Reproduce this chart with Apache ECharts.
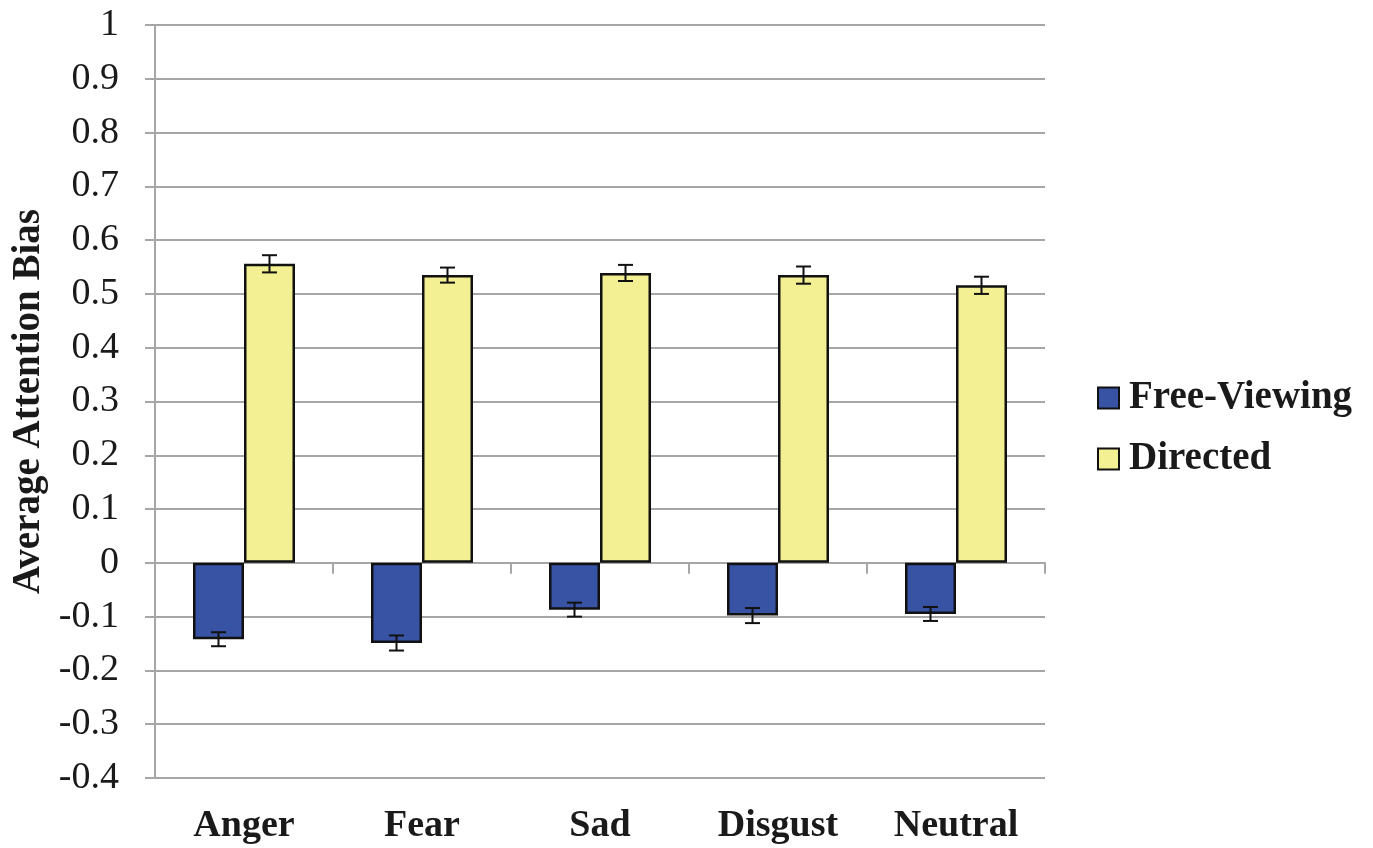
<!DOCTYPE html>
<html>
<head>
<meta charset="utf-8">
<script src="https://cdn.jsdelivr.net/npm/echarts@6/dist/echarts.min.js"></script>
<style>
  html, body { margin: 0; padding: 0; background: #fff; }
  #chart { width: 1373px; height: 848px; }
</style>
</head>
<body>
<div id="chart"></div>
<script>
// Emotion categories on the x axis
const categories = ['Anger', 'Fear', 'Sad', 'Disgust', 'Neutral'];

// Mean attention bias and standard error per condition
const freeViewing = [-0.142, -0.149, -0.087, -0.098, -0.095];
const freeViewingErr = [0.013, 0.014, 0.013, 0.014, 0.013];
const directed = [0.556, 0.535, 0.539, 0.535, 0.516];
const directedErr = [0.016, 0.014, 0.015, 0.016, 0.016];

const seriesNames = ['Free-Viewing', 'Directed'];
const yMin = -0.4, yMax = 1, yStep = 0.1;

const BAR_W = 51;
const FONT = '"Liberation Serif", "Times New Roman", serif';
const AXIS_GRAY = '#a6a6a6';
const TEXT = '#1a1a1a';

function errorBarSeries(means, errs, offset) {
  return {
    type: 'custom',
    xAxisIndex: 0,
    z: 5,
    silent: true,
    data: means.map((m, i) => [i, m - errs[i], m + errs[i]]),
    renderItem(params, api) {
      const i = api.value(0);
      const lo = api.coord([i, api.value(1)]);
      const hi = api.coord([i, api.value(2)]);
      const x = lo[0] + offset;
      const cap = 7.5;
      const style = { stroke: '#111', lineWidth: 2 };
      return {
        type: 'group',
        children: [
          { type: 'line', shape: { x1: x, y1: lo[1], x2: x, y2: hi[1] }, style },
          { type: 'line', shape: { x1: x - cap, y1: lo[1], x2: x + cap, y2: lo[1] }, style },
          { type: 'line', shape: { x1: x - cap, y1: hi[1], x2: x + cap, y2: hi[1] }, style }
        ]
      };
    }
  };
}

const chart = echarts.init(document.getElementById('chart'), null, { renderer: 'canvas' });

chart.setOption({
  animation: false,
  backgroundColor: '#fff',
  grid: { left: 155, right: 328, top: 25, bottom: 70, containLabel: false },
  legend: {
    orient: 'vertical',
    left: 1097,
    top: 378,
    padding: 0,
    icon: 'rect',
    itemWidth: 21,
    itemHeight: 21,
    itemGap: 21,
    data: seriesNames,
    textStyle: {
      fontFamily: FONT, fontWeight: 'bold', fontSize: 39, color: TEXT,
      lineHeight: 40, padding: [0, 0, 0, 5]
    }
  },
  xAxis: [
    {
      // category labels along the bottom of the plot
      type: 'category',
      data: categories,
      position: 'bottom',
      axisLine: { show: false, onZero: false },
      axisTick: { show: false },
      axisLabel: { fontFamily: FONT, fontWeight: 'bold', fontSize: 38, color: TEXT, margin: 29 },
      splitLine: { show: false }
    },
    {
      // baseline at zero with boundary ticks
      type: 'category',
      data: categories,
      position: 'bottom',
      axisLine: { show: true, onZero: true, lineStyle: { color: AXIS_GRAY, width: 2 } },
      axisTick: { show: true, length: 11, lineStyle: { color: AXIS_GRAY, width: 2 } },
      axisLabel: { show: false },
      splitLine: { show: false }
    }
  ],
  yAxis: {
    type: 'value',
    min: yMin,
    max: yMax,
    interval: yStep,
    name: 'Average Attention Bias',
    nameLocation: 'middle',
    nameGap: 106,
    nameTextStyle: { fontFamily: FONT, fontWeight: 'bold', fontSize: 39, color: TEXT },
    axisLine: { show: true, lineStyle: { color: AXIS_GRAY, width: 2 } },
    axisTick: { show: true, length: 10, lineStyle: { color: AXIS_GRAY, width: 2 } },
    axisLabel: {
      fontFamily: FONT, fontSize: 38, color: TEXT, margin: 36,
      formatter: v => String(Number(v.toFixed(1)))
    },
    splitLine: { show: true, lineStyle: { color: AXIS_GRAY, width: 2 } }
  },
  series: [
    {
      name: seriesNames[0],
      type: 'bar',
      xAxisIndex: 0,
      data: freeViewing,
      barWidth: BAR_W,
      barGap: '0%',
      itemStyle: { color: '#3953a4', borderColor: '#111', borderWidth: 2.5 }
    },
    {
      name: seriesNames[1],
      type: 'bar',
      xAxisIndex: 0,
      data: directed,
      barWidth: BAR_W,
      barGap: '0%',
      itemStyle: { color: '#f3ef93', borderColor: '#111', borderWidth: 2.5 }
    },
    errorBarSeries(freeViewing, freeViewingErr, -BAR_W / 2),
    errorBarSeries(directed, directedErr, BAR_W / 2)
  ]
});
</script>
</body>
</html>
